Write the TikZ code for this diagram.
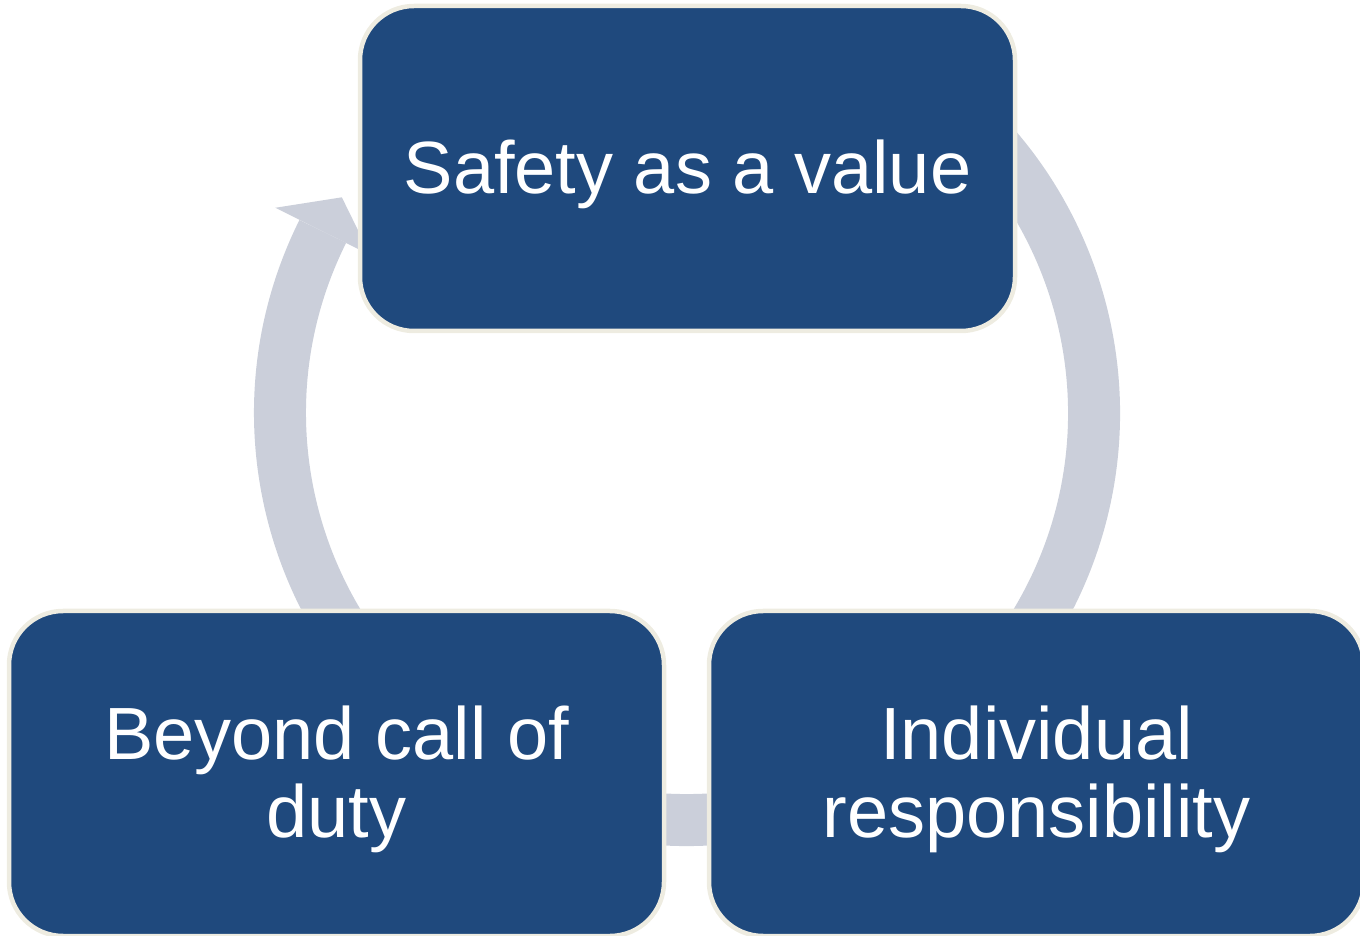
\documentclass[tikz,border=0pt]{standalone}
\usepackage{fontspec}
\setmainfont{Liberation Sans}
\usetikzlibrary{calc}
\definecolor{cycblue}{RGB}{31,73,125}
\definecolor{cycedge}{RGB}{238,236,225}
\definecolor{cycring}{RGB}{203,207,218}
\begin{document}
\begin{tikzpicture}[x=1pt,y=1pt,
  every node/.style={font=\fontsize{74}{78}\selectfont,align=center,text=white},
  cycbox/.style={draw=cycedge,line width=4.5pt,fill=cycblue,rounded corners=54pt,minimum width=655pt,minimum height=325pt,inner sep=0pt,text height=65pt},
  twolines/.style={text height=143pt}]
\useasboundingbox (0,0) rectangle (1360,935);
% ring with arrowhead, behind the boxes
\coordinate (ctr) at (687,522);
\draw[cycring,line width=52pt] ($(ctr)+(60:407)$) arc[start angle=60,end angle=-206.5,radius=407];
\fill[cycring] ($(ctr)+(153.5:460)$) -- ($(ctr)+(148:407)$) -- ($(ctr)+(153.5:354)$) -- cycle;
% the three boxes
\node[cycbox] (safety) at (687.5,766.5) {Safety as a value};
\node[cycbox,twolines] (indiv) at (1036.5,161.5) {Individual\\responsibility};
\node[cycbox,twolines] (beyond) at (336.5,161.5) {Beyond call of\\duty};
\end{tikzpicture}
\end{document}
